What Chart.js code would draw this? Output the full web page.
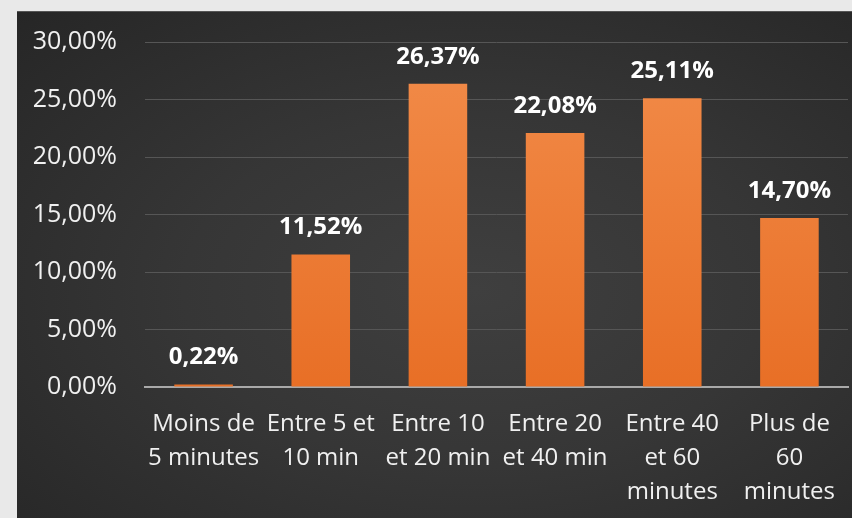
<!DOCTYPE html>
<html>
<head>
<meta charset="utf-8">
<script src="https://cdn.jsdelivr.net/npm/chart.js@4/dist/chart.umd.min.js"></script>
<style>
	html, body {
		margin: 0;
		padding: 0;
		width: 852px;
		height: 518px;
		overflow: hidden;
		background: #e9e9e9;
	}
	.panel {
		position: absolute;
		left: 17px;
		top: 11px;
		width: 835px;
		height: 507px;
		overflow: hidden;
		background: radial-gradient(ellipse at 55% 55%, #3f3f3f 0%, #363636 45%, #262626 100%);
		border-top: 1px solid #555;
		box-sizing: border-box;
	}
	#chart {
		position: absolute;
		left: 0;
		top: -13px;
	}
</style>
</head>
<body>
<div class="panel">
	<canvas id="chart" width="835" height="519"></canvas>
</div>
<script>
const categories = [
	["Moins de", "5 minutes"],
	["Entre 5 et", "10 min"],
	["Entre 10", "et 20 min"],
	["Entre 20", "et 40 min"],
	["Entre 40", "et 60", "minutes"],
	["Plus de", "60", "minutes"],
];
const shares = [0.22, 11.52, 26.37, 22.08, 25.11, 14.7];

const yMin = 0;
const yMax = 30;
const yStep = 5;

const fontFamily = "'Open Sans', 'Noto Sans', sans-serif";

const formatPct = (v) => v.toFixed(2).replace(".", ",") + "%";

const barLabels = {
	id: "barLabels",
	afterDatasetsDraw: (chart) => {
		const ctx = chart.ctx;
		const meta = chart.getDatasetMeta(0);
		ctx.save();
		ctx.font = `bold 24px ${fontFamily}`;
		ctx.fillStyle = "#ffffff";
		ctx.textAlign = "center";
		ctx.textBaseline = "middle";
		meta.data.forEach((bar, idx) => {
			ctx.fillText(formatPct(shares[idx]), bar.x, bar.y - 27);
		});
		ctx.restore();
	},
};

const barFill = (context) => {
	const { chart } = context;
	const area = chart.chartArea;
	if (!area) return "#ee7d36";
	const g = chart.ctx.createLinearGradient(0, area.top, 0, area.bottom);
	g.addColorStop(0, "#f28c4a");
	g.addColorStop(1, "#e86f26");
	return g;
};

const ctx = document.getElementById("chart").getContext("2d");

new Chart(ctx, {
	type: "bar",
	data: {
		labels: categories,
		datasets: [
			{
				data: shares,
				backgroundColor: barFill,
				borderWidth: 0,
				barPercentage: 0.5,
				categoryPercentage: 1,
			},
		],
	},
	options: {
		responsive: false,
		animation: false,
		layout: {
			padding: { top: 5, right: 4, bottom: 0, left: 0 },
		},
		plugins: {
			legend: { display: false },
			tooltip: { enabled: false },
		},
		scales: {
			x: {
				afterFit: (axis) => {
					axis.height = 131;
				},
				grid: { display: false },
				border: { display: true, color: "#a9a9a9", width: 2 },
				ticks: {
					color: "#f0f0f0",
					padding: 12,
					maxRotation: 0,
					autoSkip: false,
					font: { family: fontFamily, size: 24, lineHeight: 1.42 },
				},
			},
			y: {
				min: yMin,
				max: yMax,
				afterFit: (axis) => {
					axis.width = 128;
				},
				grid: { color: "#565656", lineWidth: 1, drawTicks: false },
				border: { display: false },
				ticks: {
					stepSize: yStep,
					color: "#f0f0f0",
					padding: 28,
					font: { family: fontFamily, size: 25 },
					callback: (v) => formatPct(v),
				},
			},
		},
	},
	plugins: [barLabels],
});
</script>
</body>
</html>
